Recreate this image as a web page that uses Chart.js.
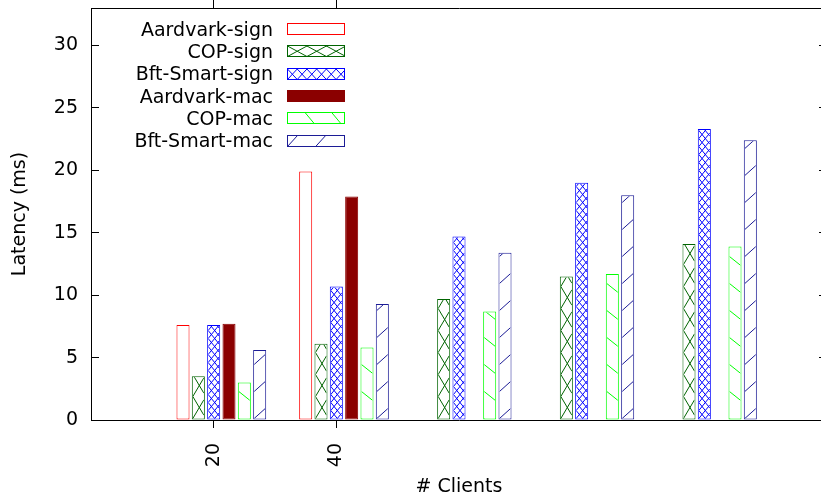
<!DOCTYPE html>
<html>
<head>
<meta charset="utf-8">
<script src="https://cdn.jsdelivr.net/npm/chart.js@4.4.1/dist/chart.umd.min.js"></script>
<style>
  html, body { margin: 0; padding: 0; background: #fff; overflow: hidden; }
  #wrap { width: 821px; height: 499px; overflow: hidden; }
</style>
</head>
<body>
<div id="wrap"><canvas id="c" width="838" height="499"></canvas></div>
<script>
// data
const clients = ['20', '40', '', '', ''];
const yTicks = [0, 5, 10, 15, 20, 25, 30];
const aardvarkSign = [7.6, 19.9];
const copSign = [3.5, 6.1, 9.7, 11.5, 14.1];
const bftSign = [7.6, 10.7, 14.7, 19.0, 23.3];
const aardvarkMac = [7.7, 17.9];
const copMac = [3.0, 5.8, 8.7, 11.7, 13.9];
const bftMac = [5.6, 9.3, 13.4, 18.0, 22.4];

// hatch families: lines y = y0 + slope * dx + n * step (bars / legend key)
const series = [
  { label: 'Aardvark-sign', values: aardvarkSign, color: '#ff0000', fill: '#ffffff', hatch: [], key: [] },
  { label: 'COP-sign', values: copSign, color: '#006400', fill: '#ffffff',
    hatch: [{ slope: 22 / 13, step: 22 }, { slope: -22 / 13, step: 22 }],
    key: [{ slope: 0.54, step: 10.5 }, { slope: -0.54, step: 10.5 }] },
  { label: 'Bft-Smart-sign', values: bftSign, color: '#0000ff', fill: '#ffffff',
    hatch: [{ slope: 16 / 13, step: 8 }, { slope: -16 / 13, step: 8 }],
    key: [{ slope: 1.08, step: 10.5 }, { slope: -1.08, step: 10.5 }] },
  { label: 'Aardvark-mac', values: aardvarkMac, color: '#8b0000', fill: '#8b0000', hatch: [], key: [] },
  { label: 'COP-mac', values: copMac, color: '#00ff00', fill: '#ffffff',
    hatch: [{ slope: 0.8, step: 27 }], key: [{ slope: 1.2, step: 32 }] },
  { label: 'Bft-Smart-mac', values: bftMac, color: '#1c1c96', fill: '#ffffff',
    hatch: [{ slope: -0.9, step: 27 }], key: [{ slope: -1.1, step: 31 }] }
];

// gnuplot puts the tic under the third bar of each cluster
const tickShift = 0.0625;
const xMin = -1 - tickShift, xMax = 5 - tickShift;

Chart.defaults.font.family = '"DejaVu Sans", sans-serif';
Chart.defaults.font.size = 19;
Chart.defaults.color = '#000';

function hatch(ctx, r, families, color) {
  if (!families.length) return;
  ctx.save();
  ctx.beginPath();
  ctx.rect(r.left, r.top, r.right - r.left, r.bottom - r.top);
  ctx.clip();
  ctx.strokeStyle = color;
  ctx.lineWidth = 1;
  const w = r.right - r.left;
  families.forEach(f => {
    const reach = Math.abs(f.slope) * w;
    const nMin = Math.floor((r.top - r.bottom - reach) / f.step) - 1;
    const nMax = Math.ceil(reach / f.step) + 1;
    ctx.beginPath();
    for (let n = nMin; n <= nMax; n++) {
      const y0 = r.bottom + n * f.step;
      ctx.moveTo(r.left, y0);
      ctx.lineTo(r.right, y0 + f.slope * w);
    }
    ctx.stroke();
  });
  ctx.restore();
}

const hatchPlugin = {
  id: 'hatch',
  afterDatasetsDraw(chart) {
    const ctx = chart.ctx;
    series.forEach((s, d) => {
      chart.getDatasetMeta(d).data.forEach(bar => {
        const p = bar.getProps(['x', 'y', 'base', 'width'], true);
        hatch(ctx, {
          left: p.x - p.width / 2 + 1, right: p.x + p.width / 2 - 1,
          top: p.y + 1, bottom: p.base - 1
        }, s.hatch, s.color);
      });
    });
  }
};

const keyPlugin = {
  id: 'key',
  afterDraw(chart) {
    const ctx = chart.ctx;
    ctx.save();
    ctx.font = '19px "DejaVu Sans"';
    ctx.textAlign = 'right';
    ctx.textBaseline = 'alphabetic';
    series.forEach((s, k) => {
      const cy = 28.5 + k * 22.3;
      ctx.fillStyle = '#000';
      ctx.fillText(s.label, 273, cy + 7.2);
      const r = { left: 287.5, right: 344.5, top: Math.round(cy - 5.5) + 0.5, bottom: Math.round(cy + 5.5) + 0.5 };
      ctx.fillStyle = s.fill;
      ctx.fillRect(r.left, r.top, r.right - r.left, r.bottom - r.top);
      ctx.strokeStyle = s.color;
      ctx.lineWidth = 1;
      ctx.strokeRect(r.left, r.top, r.right - r.left, r.bottom - r.top);
      hatch(ctx, r, s.key, s.color);
    });
    ctx.restore();
  }
};

const xTickBuilder = scale => {
  scale.ticks = clients
    .map((c, i) => ({ value: i - tickShift, label: c }))
    .filter(t => t.label !== '');
};
const yTickBuilder = scale => {
  scale.ticks = yTicks.map(v => ({ value: v }));
};

new Chart(document.getElementById('c'), {
  type: 'bar',
  data: {
    datasets: series.map(s => ({
      label: s.label,
      data: s.values.map((v, i) => ({ x: i, y: v })),
      backgroundColor: s.fill,
      borderColor: s.color,
      borderWidth: 1,
      borderSkipped: false,
      barPercentage: 0.85,
      categoryPercentage: 0.75,
      xAxisID: 'x',
      yAxisID: 'y'
    }))
  },
  options: {
    responsive: false,
    animation: false,
    layout: { padding: 0 },
    plugins: { legend: { display: false }, tooltip: { enabled: false } },
    scales: {
      x: {
        type: 'linear', position: 'bottom', min: xMin, max: xMax, offset: false,
        afterBuildTicks: xTickBuilder,
        ticks: {
          minRotation: 90, maxRotation: 90, autoSkip: false, padding: 15,
          callback: v => clients[Math.round(v + tickShift)]
        },
        grid: { offset: false, drawOnChartArea: false, tickLength: 8, color: '#000' },
        border: { display: true, color: '#000', width: 1 },
        title: { display: true, text: '# Clients', padding: { top: 0, bottom: 1 } },
        afterFit: s => { s.height = 79; s.paddingLeft = 0; s.paddingRight = 0; }
      },
      xT: {
        type: 'linear', position: 'top', min: xMin, max: xMax, offset: false,
        afterBuildTicks: xTickBuilder,
        ticks: { display: false },
        grid: { offset: false, drawOnChartArea: false, tickLength: 8, color: '#000' },
        border: { display: true, color: '#000', width: 1 },
        afterFit: s => { s.height = 8; s.paddingLeft = 0; s.paddingRight = 0; }
      },
      y: {
        type: 'linear', position: 'left', min: 0, max: 33,
        afterBuildTicks: yTickBuilder,
        ticks: { padding: 21 },
        grid: { drawOnChartArea: false, tickLength: -8, color: '#000' },
        border: { display: true, color: '#000', width: 1 },
        title: { display: true, text: 'Latency (ms)', padding: { top: 9, bottom: 0 } },
        afterFit: s => { s.width = 91; s.paddingTop = 0; s.paddingBottom = 0; }
      },
      yR: {
        type: 'linear', position: 'right', min: 0, max: 33,
        afterBuildTicks: yTickBuilder,
        ticks: { display: false },
        grid: { drawOnChartArea: false, tickLength: -8, color: '#000' },
        border: { display: true, color: '#000', width: 1 },
        afterFit: s => { s.width = 11; s.paddingTop = 0; s.paddingBottom = 0; }
      }
    }
  },
  plugins: [hatchPlugin, keyPlugin]
});
</script>
</body>
</html>
